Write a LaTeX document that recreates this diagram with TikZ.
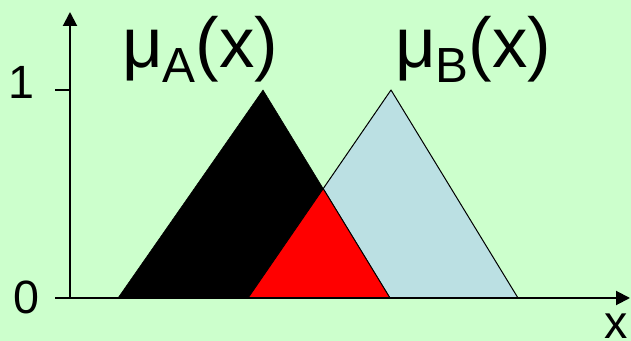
\documentclass[tikz,border=0pt]{standalone}
\usepackage{fontspec}
\setmainfont{Liberation Sans}
\usetikzlibrary{arrows.meta}
\newcommand\msub[1]{\raisebox{-11.25pt}{\fontsize{37}{38}\selectfont #1}}
\begin{document}
\begin{tikzpicture}[x=0.75pt,y=-0.75pt,line join=round,
  axis/.style={line width=1.5pt,-{Triangle[length=10.5pt,width=10.5pt]}},
  ticklabel/.style={font=\fontsize{35}{36}\selectfont,inner sep=0,anchor=base west},
  mulabel/.style={font=\fontsize{53}{54}\selectfont,inner sep=0,anchor=base west}]
\definecolor{paper}{HTML}{CCFFCC}
\definecolor{setb}{HTML}{BBE0E3}
\definecolor{overlap}{HTML}{FF0000}

\fill[paper] (0,0) rectangle (631,341);
\useasboundingbox (0,0) rectangle (631,341);

% triangles A and B, and where they overlap
\coordinate (a0) at (118,298);
\coordinate (a1) at (263,90);
\coordinate (a2) at (390,298);
\coordinate (b0) at (248,298);
\coordinate (b1) at (391,90);
\coordinate (b2) at (518,298);
\coordinate (ab) at (intersection of a1--a2 and b0--b1);
\filldraw[fill=setb,draw=black,line width=0.75pt] (b0) -- (b1) -- (b2) -- cycle;
\filldraw[fill=black] (a0) -- (a1) -- (a2) -- cycle;
\filldraw[fill=overlap,draw=black,line width=0.75pt] (b0) -- (ab) -- (a2) -- cycle;

% axes
\draw[line width=1.5pt] (55,90) -- (70,90);
\draw[axis] (55,298) -- (630,298);
\draw[axis] (70,298) -- (70,12);

\node[ticklabel] (one) at (8,99) {1};
\node[ticklabel] (zero) at (13,314) {0};
\node[ticklabel] (xlab) at (604,339) {x};
\node[mulabel] (muA) at (122,68) {μ\msub{A}(x)};
\node[mulabel] (muB) at (395,68) {μ\msub{B}(x)};
\end{tikzpicture}
\end{document}
